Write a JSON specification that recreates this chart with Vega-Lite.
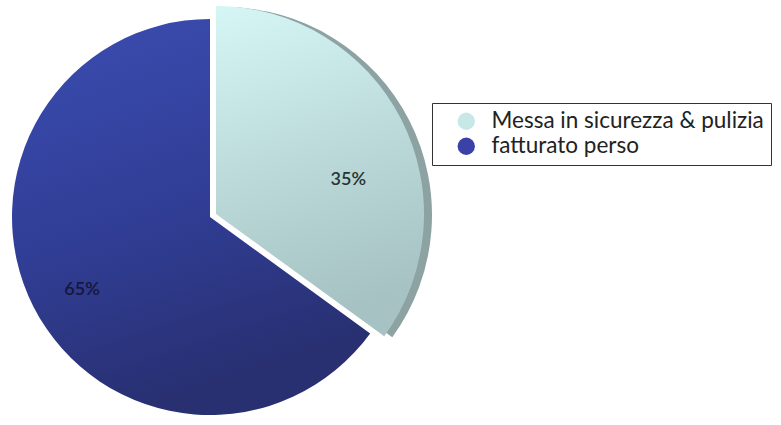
{
  "$schema": "https://vega.github.io/schema/vega-lite/v6.json",
  "autosize": {"type": "none"},
  "width": 420,
  "height": 434,
  "padding": {"left": 0, "top": 0, "right": 361, "bottom": 0},
  "background": "#ffffff",
  "config": {"view": {"stroke": null}},
  "data": {
    "values": [
      {"cat": "Messa in sicurezza & pulizia", "value": 35, "label": "35%"},
      {"cat": "fatturato perso", "value": 65, "label": "65%"}
    ]
  },
  "layer": [
    {
      "mark": {"type": "arc", "radius": 198, "opacity": 0},
      "encoding": {
        "theta": {"field": "value", "type": "quantitative", "stack": true},
        "color": {
          "field": "cat",
          "type": "nominal",
          "scale": {"domain": ["Messa in sicurezza & pulizia", "fatturato perso"], "range": ["#c8e8e8", "#3a42a8"]},
          "legend": {
            "title": null,
            "orient": "none",
            "legendX": 432,
            "legendY": 103,
            "strokeColor": "#333333",
            "fillColor": "#ffffff",
            "padding": 7,
            "symbolType": "circle",
            "symbolSize": 300,
            "symbolOpacity": 1,
            "symbolStrokeWidth": 0,
            "symbolOffset": 16,
            "labelOffset": 14,
            "labelFont": "Lato",
            "labelFontSize": 22.5,
            "labelColor": "#222222",
            "labelLimit": 400,
            "rowPadding": 2
          }
        }
      }
    },
    {
      "mark": {"type": "arc", "radius": 198},
      "encoding": {
        "theta": {"field": "value", "type": "quantitative", "stack": true},
        "fill": {
          "value": {
            "gradient": "linear",
            "x1": 0, "y1": 0, "x2": 0.3, "y2": 1,
            "stops": [
              {"offset": 0, "color": "#3b4db2"},
              {"offset": 0.55, "color": "#313e96"},
              {"offset": 1, "color": "#283072"}
            ]
          }
        },
        "opacity": {"condition": {"test": "datum.cat === 'fatturato perso'", "value": 1}, "value": 0}
      }
    },
    {
      "mark": {"type": "arc", "radius": 208, "xOffset": 14, "yOffset": -2, "fill": "#8da2a2"},
      "encoding": {
        "theta": {"field": "value", "type": "quantitative", "stack": true},
        "opacity": {"condition": {"test": "datum.cat !== 'fatturato perso'", "value": 1}, "value": 0}
      }
    },
    {
      "mark": {"type": "arc", "radius": 208, "xOffset": 6, "yOffset": -3},
      "encoding": {
        "theta": {"field": "value", "type": "quantitative", "stack": true},
        "fill": {
          "value": {
            "gradient": "linear",
            "x1": 0, "y1": 0, "x2": 0.2, "y2": 1,
            "stops": [
              {"offset": 0, "color": "#d6f6f6"},
              {"offset": 0.5, "color": "#bddbdb"},
              {"offset": 1, "color": "#a6c2c2"}
            ]
          }
        },
        "opacity": {"condition": {"test": "datum.cat !== 'fatturato perso'", "value": 1}, "value": 0}
      }
    },
    {
      "mark": {"type": "text", "radius": 147, "xOffset": 3, "yOffset": 6, "font": "Lato", "fontSize": 18, "fontWeight": 600, "fill": "#15173a"},
      "encoding": {
        "theta": {"field": "value", "type": "quantitative", "stack": true},
        "text": {"field": "label"},
        "opacity": {"condition": {"test": "datum.cat === 'fatturato perso'", "value": 1}, "value": 0}
      }
    },
    {
      "mark": {"type": "text", "radius": 135, "xOffset": 18, "yOffset": 24, "font": "Lato", "fontSize": 18, "fontWeight": 600, "fill": "#2a3232"},
      "encoding": {
        "theta": {"field": "value", "type": "quantitative", "stack": true},
        "text": {"field": "label"},
        "opacity": {"condition": {"test": "datum.cat !== 'fatturato perso'", "value": 1}, "value": 0}
      }
    }
  ]
}
